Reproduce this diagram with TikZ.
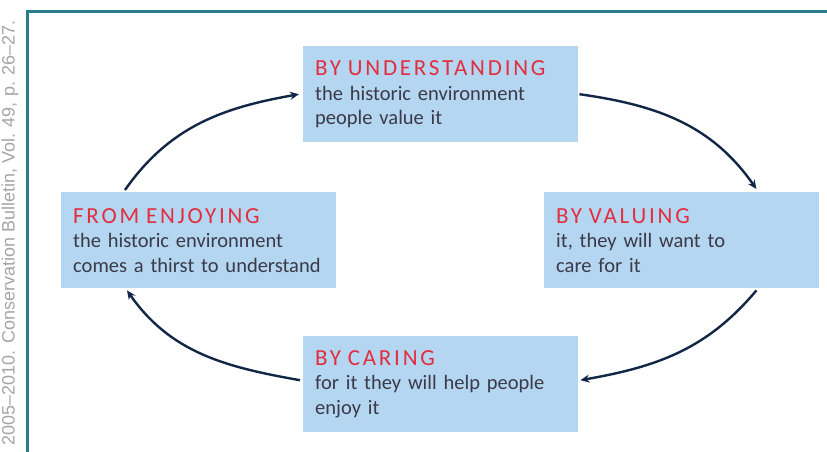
\documentclass[tikz,border=0pt]{standalone}
\usepackage{fontspec}
\setmainfont{Carlito}
\newfontfamily\headfont[LetterSpace=12]{Carlito}
\newfontfamily\creditfont{Liberation Sans}
\usetikzlibrary{arrows.meta,positioning}
\definecolor{boxblue}{RGB}{180,214,241}
\definecolor{headred}{RGB}{226,46,62}
\definecolor{bodygray}{RGB}{58,58,72}
\definecolor{arrownavy}{RGB}{18,38,70}
\definecolor{frameteal}{RGB}{40,124,140}
\definecolor{creditgray}{RGB}{165,165,165}
\newcommand{\stagehead}[1]{{\headfont\fontsize{23}{25}\selectfont\color{headred}#1}}

\begin{document}
\begin{tikzpicture}[x=1pt,y=1pt,>=Stealth,
  stagebox/.style={fill=boxblue,anchor=north west,minimum width=275pt,minimum height=96pt,
    text width=251pt,inner xsep=12pt,align=left,text=bodygray,
    font=\fontsize{20.5}{24.5}\selectfont},
  cycle/.style={->,line width=2.4pt,draw=arrownavy,arrows={-Stealth[length=9pt,width=8pt]}}]
  \useasboundingbox (0,0) rectangle (827,451);
  \clip (0,0) rectangle (827,451);
  % credit line and frame
  \node[rotate=90,anchor=base east,inner sep=0pt,text=creditgray,font=\creditfont\fontsize{18}{18}\selectfont]
    (credit) at (14.5,431) {2005–2010. Conservation Bulletin, Vol. 49, p. 26–27.};
  \draw[frameteal,line width=3pt] (27.7,-2) -- (27.7,439.5) -- (830,439.5);
  % the four stages
  \node[stagebox] (understand) at (303,405) {\stagehead{BY UNDERSTANDING}\\the historic environment\\people value it};
  \node[stagebox] (value) at (544,259) {\stagehead{BY VALUING}\\it, they will want to\\care for it};
  \node[stagebox] (care) at (303,115) {\stagehead{BY CARING}\\for it they will help people\\enjoy it};
  \node[stagebox] (enjoy) at (61,259) {\stagehead{FROM ENJOYING}\\the historic environment\\comes a thirst to understand};
  % cycle arrows
  \draw[cycle] ([shift={(64pt,2pt)}]enjoy.north west) to[out=55,in=190] ([xshift=-4pt]understand.west);
  \draw[cycle] ([xshift=1pt]understand.east) to[out=-8,in=125] ([shift={(-63pt,3pt)}]value.north east);
  \draw[cycle] ([shift={(-63pt,-2pt)}]value.south east) to[out=-130,in=10] ([shift={(2pt,4pt)}]care.east);
  \draw[cycle] ([shift={(-3pt,4pt)}]care.west) to[out=170,in=-55] ([shift={(66pt,-2pt)}]enjoy.south west);
\end{tikzpicture}
\end{document}
